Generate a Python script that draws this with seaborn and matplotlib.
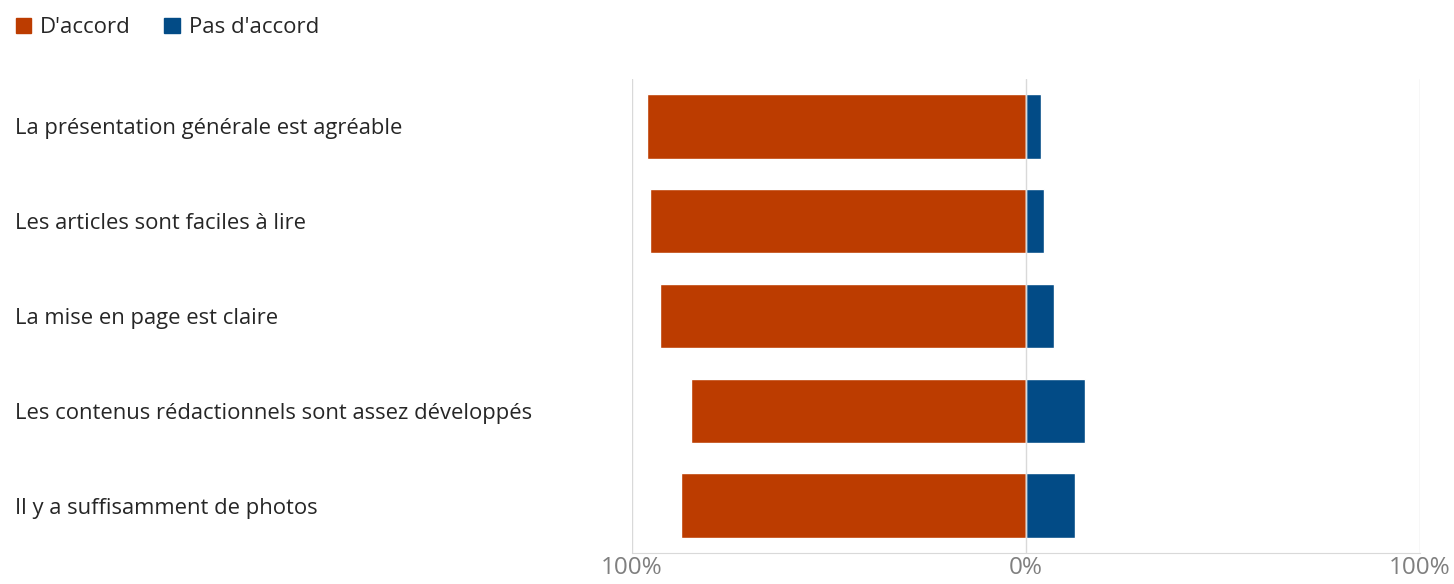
import pandas as pd
import matplotlib.pyplot as plt
import seaborn as sn
from matplotlib.patches import Patch

# Data
questions = [
    "La présentation générale est agréable",
    "Les articles sont faciles à lire",
    "La mise en page est claire",
    "Les contenus rédactionnels sont assez développés",
    "Il y a suffisamment de photos",
]
agree = [96.2, 95.5, 93.0, 85.0, 87.5]
disagree = [3.8, 4.5, 7.0, 15.0, 12.5]
ticks = [-100, 0, 100]
tick_labels = ["100%", "0%", "100%"]

orange = "#BC3C00"
blue = "#024B86"

df = pd.DataFrame({"question": questions, "agree": agree, "disagree": disagree})
df["agree_neg"] = -df["agree"]

sn.set_style("white")
plt.rcParams["font.family"] = ["Open Sans", "DejaVu Sans"]

fig = plt.figure(figsize=(14.54, 5.84), dpi=100)
ax = fig.add_axes([0.4347, 0.0531, 0.9766 - 0.4347, 0.8647 - 0.0531])

sn.barplot(data=df, x="agree_neg", y="question", color=orange, width=0.68,
           orient="h", saturation=1, ax=ax)
sn.barplot(data=df, x="disagree", y="question", color=blue, width=0.68,
           orient="h", saturation=1, ax=ax)

ax.set_xlim(-100, 100)
ax.set_xticks(ticks)
ax.set_xticklabels(tick_labels, color="#7f7f7f", fontsize=17.5)
ax.set_xlabel("")
ax.set_ylabel("")

# light vertical gridlines
for t in ticks:
    ax.axvline(t, color="#d9d9d9", lw=1, zorder=3 if t == 0 else 0)

for s in ["top", "right", "left"]:
    ax.spines[s].set_visible(False)
ax.spines["bottom"].set_color("#d9d9d9")

ax.tick_params(axis="x", length=0, pad=2)
ax.tick_params(axis="y", length=0, pad=444.5)
for lbl in ax.get_yticklabels():
    lbl.set_ha("left")
    lbl.set_fontsize(15.8)
    lbl.set_color("#262626")

handles = [Patch(color=orange, label="D'accord"), Patch(color=blue, label="Pas d'accord")]
fig.legend(handles=handles, loc="upper left", bbox_to_anchor=(-0.003, 1.005), ncol=2,
           frameon=False, fontsize=16, handlelength=0.7, handleheight=0.7,
           handletextpad=0.4, columnspacing=1.5)

fig.savefig("out.png", dpi=100)
